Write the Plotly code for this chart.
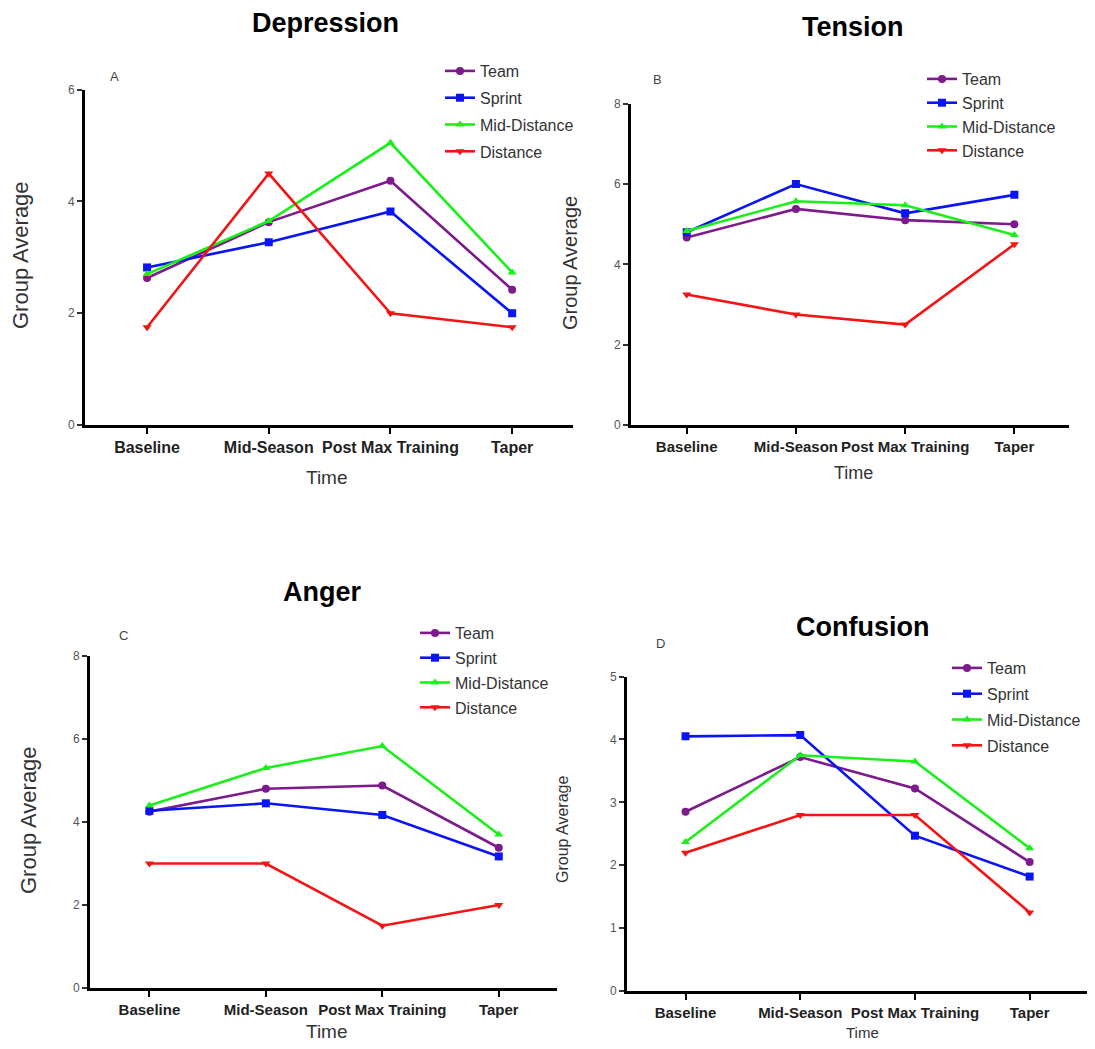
import plotly.graph_objects as go

# ---------------- data ----------------
times = ["Baseline", "Mid-Season", "Post Max Training", "Taper"]
groups = ["Team", "Sprint", "Mid-Distance", "Distance"]

depression_team = [2.63, 3.63, 4.37, 2.42]
depression_sprint = [2.82, 3.27, 3.82, 2.00]
depression_mid = [2.70, 3.65, 5.05, 2.73]
depression_distance = [1.75, 4.50, 2.00, 1.75]

tension_team = [4.67, 5.38, 5.10, 5.00]
tension_sprint = [4.80, 6.00, 5.27, 5.73]
tension_mid = [4.83, 5.57, 5.47, 4.73]
tension_distance = [3.25, 2.75, 2.50, 4.50]

anger_team = [4.25, 4.80, 4.88, 3.38]
anger_sprint = [4.27, 4.45, 4.17, 3.17]
anger_mid = [4.40, 5.30, 5.83, 3.70]
anger_distance = [3.00, 3.00, 1.50, 2.00]

confusion_team = [2.85, 3.72, 3.22, 2.05]
confusion_sprint = [4.05, 4.07, 2.47, 1.82]
confusion_mid = [2.37, 3.75, 3.65, 2.27]
confusion_distance = [2.20, 2.80, 2.80, 1.25]

panel_titles = ["Depression", "Tension", "Anger", "Confusion"]
panel_letters = ["A", "B", "C", "D"]
y_max = [6, 8, 8, 5]
y_dtick = [2, 2, 2, 1]

# ---------------- styling ----------------
OFF = 8  # default page margin of the html body
W, H = 1095 - 2 * OFF, 1049 - 2 * OFF
FONT = "Liberation Sans, Arial"
colors = {"Team": "#7d1a8c", "Sprint": "#0a14f5", "Mid-Distance": "#19f019", "Distance": "#f51414"}
symbols = {"Team": "circle", "Sprint": "square", "Mid-Distance": "triangle-up", "Distance": "triangle-down"}


def px(x):
    return min(1.0, max(0.0, (x - OFF) / W))


def py(y):
    return min(1.0, max(0.0, 1 - (y - OFF) / H))


# panel geometry in reference pixels: (x0, x1, ytop, ybottom)
geom = [
    (85, 573, 89.7, 425),
    (631, 1069, 103.7, 425),
    (90, 557, 656, 988),
    (627, 1095, 676.6, 991),
]
legend_pos = [(440, 54), (922, 62), (415, 616), (947, 651)]
legend_gap = [3, 0, 1, 2]
title_pos = [(325, 23), (853, 27), (322, 592), (862, 627)]
letter_pos = [(114, 77), (657, 79), (123, 635), (660, 643)]
ytitle = [(20, 255, 22), (570, 263, 20), (28, 820, 22), (562, 830, 16)]
xtitle = [(327, 478, 19), (853, 473, 18), (327, 1031, 19), (862, 1032, 15)]
xtick_size = [16, 15, 15, 15]

series = [
    [depression_team, depression_sprint, depression_mid, depression_distance],
    [tension_team, tension_sprint, tension_mid, tension_distance],
    [anger_team, anger_sprint, anger_mid, anger_distance],
    [confusion_team, confusion_sprint, confusion_mid, confusion_distance],
]

fig = go.Figure()
annotations = []
layout = {}
for i in range(4):
    ax = "" if i == 0 else str(i + 1)
    leg = "legend" if i == 0 else "legend" + str(i + 1)
    for g, vals in zip(groups, series[i]):
        fig.add_trace(go.Scatter(
            x=times, y=vals, name=g, mode="lines+markers",
            line=dict(color=colors[g], width=2.6),
            marker=dict(symbol=symbols[g], size=8, color=colors[g]),
            xaxis="x" + ax, yaxis="y" + ax, legend=leg, legendgroup=f"{i}{g}",
        ))
    x0, x1, yt, yb = geom[i]
    layout["xaxis" + ax] = dict(
        domain=[px(x0), px(x1)], anchor="y" + ax, type="category",
        range=[-0.51, 3.5], showline=True, linecolor="black", linewidth=2.6,
        ticks="outside", ticklen=6, tickwidth=2, tickcolor="black",
        showgrid=False, zeroline=False, automargin=False, tickangle=0,
        tickfont=dict(family=FONT, size=xtick_size[i], color="#222", weight="bold"),
    )
    layout["yaxis" + ax] = dict(
        domain=[py(yb), py(yt)], anchor="x" + ax, range=[0, y_max[i]], dtick=y_dtick[i],
        showline=True, linecolor="black", linewidth=2.6,
        ticks="outside", ticklen=5, tickwidth=1.5, tickcolor="#333",
        showgrid=False, zeroline=False, automargin=False,
        tickfont=dict(family=FONT, size=12, color="#555"),
    )
    lx, ly = legend_pos[i]
    layout[leg] = dict(
        x=px(lx), y=py(ly), xanchor="left", yanchor="top", bgcolor="rgba(0,0,0,0)",
        font=dict(family=FONT, size=16, color="#333"),
        itemwidth=30, tracegroupgap=legend_gap[i], traceorder="grouped",
    )
    tx, ty = title_pos[i]
    annotations.append(dict(x=px(tx), y=py(ty), xref="paper", yref="paper", text="<b>" + panel_titles[i] + "</b>",
                            xanchor="center", yanchor="middle", showarrow=False,
                            font=dict(family=FONT, size=27, color="black")))
    ax_, ay_ = letter_pos[i]
    annotations.append(dict(x=px(ax_), y=py(ay_), xref="paper", yref="paper", text=panel_letters[i],
                            xanchor="center", yanchor="middle", showarrow=False,
                            font=dict(family=FONT, size=13, color="#444")))
    gx, gy, gs = ytitle[i]
    annotations.append(dict(x=px(gx), y=py(gy), xref="paper", yref="paper", text="Group Average", textangle=-90,
                            xanchor="center", yanchor="middle", showarrow=False,
                            font=dict(family=FONT, size=gs, color="#333")))
    hx, hy, hs = xtitle[i]
    annotations.append(dict(x=px(hx), y=py(hy), xref="paper", yref="paper", text="Time",
                            xanchor="center", yanchor="middle", showarrow=False,
                            font=dict(family=FONT, size=hs, color="#333")))

fig.update_layout(
    width=W, height=H, margin=dict(l=0, r=0, t=0, b=0, autoexpand=False),
    paper_bgcolor="white", plot_bgcolor="white",
    annotations=annotations, showlegend=True, **layout,
)
fig.write_html("out.html")
